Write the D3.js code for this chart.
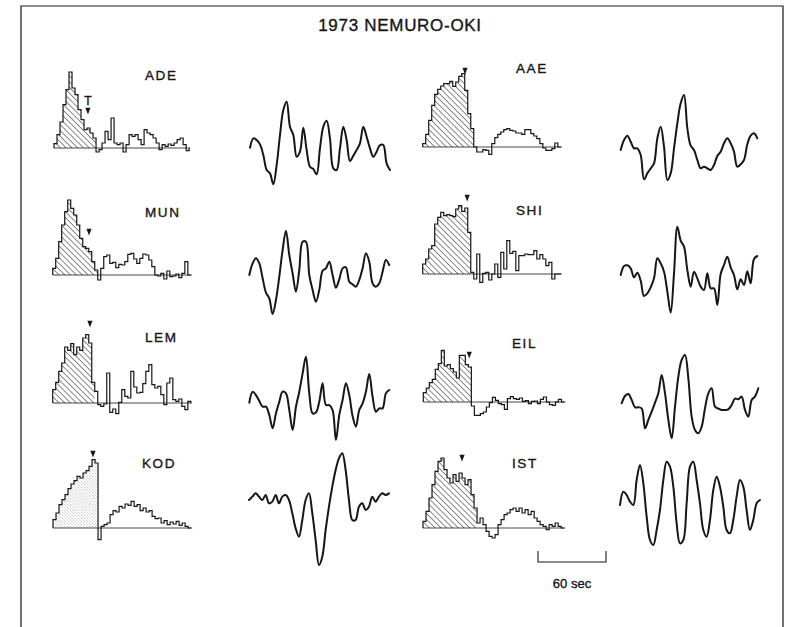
<!DOCTYPE html>
<html>
<head>
<meta charset="utf-8">
<script src="https://cdn.jsdelivr.net/npm/d3@7"></script>
<style>
  html, body { margin: 0; padding: 0; background: #fff; }
  svg { display: block; }
  text { font-family: "Liberation Sans", Arial, sans-serif; fill: #151515; stroke: #151515; stroke-width: 0.35; }
</style>
</head>
<body>
<svg id="chart" width="805" height="627"></svg>
<script>
// station order: left column then right column
const stations = ['ADE', 'MUN', 'LEM', 'KOD', 'AAE', 'SHI', 'EIL', 'IST'];

// source time functions (relative amplitude), sampled every stfDt seconds
const stfDt = 2.65;
const stfADE = [13, 40, 78, 130, 175, 228, 180, 160, 115, 85, 55, 60, 45, 30, -12, -5, 15, 50, 25, 90, 15, 10, 15, -12, 10, 40, 35, 40, 25, 10, 55, 45, 40, 30, 15, -5, 10, 5, 12, 8, 15, 25, 30, 10, -8];
const stfMUN = [20, 50, 100, 150, 190, 225, 200, 180, 150, 110, 85, 80, 70, 40, 15, -15, 20, 55, 60, 35, 38, 22, 32, 30, 40, 62, 65, 48, 35, 50, 63, 60, 45, 25, 0, -3, 5, -12, 12, -5, -3, 3, -8, 5, 40, 0];
const stfLEM = [40, 62, 95, 120, 168, 158, 178, 145, 168, 158, 195, 205, 180, 62, 35, -5, -10, -3, 90, -28, -18, -32, 2, 40, 20, 15, 95, 48, 30, 32, 58, 95, 115, 55, 45, 50, 25, -5, 60, 75, 10, 5, 12, -10, -20, 5];
const stfKOD = [25, 45, 70, 85, 100, 118, 132, 142, 155, 150, 165, 172, 185, 205, 195, -35, 5, 10, 15, 40, 52, 48, 65, 60, 72, 68, 80, 65, 70, 52, 60, 48, 52, 35, 28, 30, 15, 22, 10, 18, 12, 20, 8, 15, 5, 0];
const stfAAE = [10, 38, 80, 125, 158, 173, 183, 190, 190, 197, 182, 195, 212, 220, 170, 100, 55, 0, -15, -15, -8, -10, -22, 10, 28, 38, 45, 52, 55, 50, 48, 42, 42, 38, 52, 52, 40, 33, 25, 10, -3, -10, -10, -5, 12, 0];
const stfSHI = [30, 45, 75, 85, 150, 170, 185, 175, 178, 175, 172, 195, 205, 188, 198, 125, 5, -15, 60, -25, 2, 5, -18, 0, 30, -10, 65, 15, 100, 62, 68, 10, 55, 55, 60, 58, 58, 70, 45, 58, 45, 25, 35, -15, 0, 0];
const stfEIL = [28, 42, 58, 68, 98, 115, 155, 108, 112, 100, 90, 72, 140, 140, 112, 105, -12, -40, -40, -35, -30, -15, -2, 14, 5, -5, -8, -22, 10, 16, 10, 8, 12, 2, 4, -5, 2, 3, -5, 8, 15, 0, -8, -10, 0, 8, 0];
const stfIST = [20, 50, 90, 130, 170, 200, 210, 175, 150, 135, 160, 140, 165, 150, 130, 145, 100, 60, 15, 30, 10, -10, -25, -30, -20, 10, 25, 40, 45, 55, 60, 50, 60, 45, 55, 40, 50, 30, 20, 10, 5, -5, 10, 5, 15, 5, 0];
const stfSeries = [stfADE, stfMUN, stfLEM, stfKOD, stfAAE, stfSHI, stfEIL, stfIST];

// number of samples inside the hatched pulse, and the T marker (sample index, height)
const hatchEnd = [14, 15, 14, 15, 17, 16, 16, 18];
const markerT = [11.3, 12.1, 12.4, 13.3, 14.1, 14.8, 15.3, 13.0];
const markerH = [114, 132, 240, 225, 231, 231, 144, 213];

// observed waveforms (relative amplitude), sampled every waveDt seconds
const waveDt = 2.94;
const waveADE = [-3, 25, 20, 7, -25, -70, -80, -113, -55, 35, 110, 135, 60, 35, -30, -15, 57, -10, -60, -67, -83, -5, 60, 78, 25, -65, -70, -5, 60, 20, -43, -27, -10, 10, 60, 30, -5, -30, -15, 5, 5, -50, -70];
const waveMUN = [0, 35, 50, 35, -10, -53, -70, -117, -75, -5, 75, 133, 60, 5, -50, 15, 100, 100, 0, -45, -80, -45, 13, 20, 40, 0, -38, -13, 20, 23, -20, -28, -35, -15, 20, 65, 40, -25, -35, -25, 10, 45, 30];
const waveLEM = [0, 33, 23, 5, -12, -12, -37, -77, -32, 3, 33, 28, -22, -82, -12, 33, 88, 138, 28, -32, -29, 3, 58, -7, -7, -22, -112, -37, 8, 58, 23, -40, -72, -22, -2, 33, 86, 18, -27, -17, -17, 28, 38];
const waveKOD = [0, 10, 20, 10, 0, 15, -10, -5, 15, -10, 10, 15, 0, -40, -85, -110, -60, 0, 20, -40, -120, -195, -170, -90, -20, 40, 90, 125, 140, 90, 0, -60, -60, -20, -10, -30, -20, 10, -5, 10, 20, 15, 20];
const waveAAE = [0, 30, 43, 25, 5, 5, -15, -88, -70, -55, -40, 35, 70, 10, -90, -70, 5, 80, 140, 165, 65, 13, 0, -30, -55, -50, -55, -60, -45, -18, -5, 20, 35, 20, -5, -50, -43, -30, 17, 43, 50, 35];
const waveSHI = [0, 27, 29, 20, -7, 7, -17, -63, -55, -37, -10, 50, 35, 10, -50, -113, 5, 145, 103, 85, 15, -35, 10, -10, -35, -45, 5, -40, -40, -90, 3, 30, 55, 23, 0, -43, -13, -30, 11, -25, 48, 57];
const waveEIL = [0, 22, 28, 10, -12, -12, -15, -75, -50, -25, 2, 30, 85, 30, -50, -105, -10, 80, 130, 145, 75, -40, -80, -90, -70, -15, 30, 45, -10, -16, -20, -20, -18, -5, 14, 12, 20, -20, -40, 10, 20, 45];
const waveIST = [-15, 25, 15, -5, -15, 60, 105, 50, -50, -120, -135, -90, -30, 60, 115, 100, 40, -70, -130, -120, -10, 100, 115, 60, -10, -90, -110, -60, 30, 70, 40, -20, -90, -100, -60, 10, 60, 40, -30, -90, -60, -10, 0];
const waveSeries = [waveADE, waveMUN, waveLEM, waveKOD, waveAAE, waveSHI, waveEIL, waveIST];

// layout (page positions, not data)
const stfOrigin = [[54, 148], [52.7, 275], [52.7, 403], [53, 528], [422.7, 147], [422.7, 274], [423.3, 402], [423, 528]];
const waveOrigin = [[250, 146.7], [249.3, 275], [249.3, 402.7], [249, 500], [620.7, 150], [620.7, 275], [621.7, 403.3], [620, 500]];
const labelPos = [[145, 80], [145, 217], [145, 342], [142, 468], [516, 73], [516, 215], [512, 348], [512, 468]];

const svg = d3.select('#chart');
const ink = '#161616';

// time and amplitude scales shared by every panel
const tScale = d3.scaleLinear().domain([0, 60]).range([0, 68]);
const aScale = d3.scaleLinear().domain([0, 300]).range([0, -100]);

const defs = svg.append('defs');
defs.append('pattern')
  .attr('id', 'hatch')
  .attr('width', 4.1).attr('height', 4.1)
  .attr('patternUnits', 'userSpaceOnUse')
  .attr('patternTransform', 'rotate(-45)')
  .append('line')
  .attr('x1', 0).attr('y1', 0).attr('x2', 0).attr('y2', 4.1)
  .attr('stroke', ink).attr('stroke-width', 1);
defs.append('pattern')
  .attr('id', 'stipple')
  .attr('width', 2.2).attr('height', 2.2)
  .attr('patternUnits', 'userSpaceOnUse')
  .attr('patternTransform', 'rotate(-45)')
  .append('line')
  .attr('x1', 0).attr('y1', 0).attr('x2', 0).attr('y2', 2.2)
  .attr('stroke', '#555').attr('stroke-width', 0.6)
  .attr('stroke-dasharray', '1,0.8');

// frame
svg.append('path')
  .attr('d', 'M21,627V6H783V627')
  .attr('fill', 'none').attr('stroke', ink).attr('stroke-width', 1.2);

svg.append('text')
  .attr('x', 400).attr('y', 31)
  .attr('text-anchor', 'middle')
  .attr('font-size', 17)
  .attr('letter-spacing', 0.7)
  .text('1973 NEMURO-OKI');

const stepLine = d3.line()
  .curve(d3.curveStepAfter)
  .x(d => tScale(d.t))
  .y(d => aScale(d.v));

const stepArea = d3.area()
  .curve(d3.curveStepAfter)
  .x(d => tScale(d.t))
  .y0(aScale(0))
  .y1(d => aScale(d.v));

const waveLine = d3.line()
  .curve(d3.curveCatmullRom.alpha(0.5))
  .x((d, i) => tScale(i * waveDt))
  .y(d => aScale(d));

stations.forEach((name, k) => {
  const vals = stfSeries[k];
  const pts = [{ t: 0, v: 0 }].concat(vals.map((v, i) => ({ t: i * stfDt, v })));
  pts.push({ t: vals.length * stfDt, v: vals[vals.length - 1] });
  pts.push({ t: vals.length * stfDt, v: 0 });

  const hatchPts = vals.slice(0, hatchEnd[k]).map((v, i) => ({ t: i * stfDt, v }));
  hatchPts.push({ t: hatchEnd[k] * stfDt, v: vals[hatchEnd[k] - 1] });

  const g = svg.append('g')
    .attr('transform', `translate(${stfOrigin[k][0]},${stfOrigin[k][1]})`);

  g.append('path')
    .attr('d', stepArea(hatchPts))
    .attr('fill', name === 'KOD' ? 'url(#stipple)' : 'url(#hatch)');

  g.append('line')
    .attr('x1', 0).attr('x2', tScale(vals.length * stfDt) + 1)
    .attr('y1', aScale(0)).attr('y2', aScale(0))
    .attr('stroke', ink).attr('stroke-width', 0.8);

  g.append('path')
    .attr('d', stepLine(pts))
    .attr('fill', 'none')
    .attr('stroke', ink)
    .attr('stroke-width', 1.2)
    .attr('stroke-linejoin', 'miter');

  const mx = tScale(markerT[k] * stfDt);
  const my = aScale(markerH[k]);
  g.append('path')
    .attr('d', d3.symbol(d3.symbolTriangle, 18)())
    .attr('transform', `translate(${mx},${my}) rotate(180) scale(0.8,1.2)`)
    .attr('fill', ink);

  if (name === 'ADE') {
    g.append('text')
      .attr('x', mx).attr('y', my - 5)
      .attr('text-anchor', 'middle')
      .attr('font-size', 12)
      .text('T');
  }

  svg.append('text')
    .attr('x', labelPos[k][0]).attr('y', labelPos[k][1])
    .attr('font-size', 13.5)
    .attr('letter-spacing', 1.6)
    .text(name);

  svg.append('path')
    .attr('transform', `translate(${waveOrigin[k][0]},${waveOrigin[k][1]})`)
    .attr('d', waveLine(waveSeries[k]))
    .attr('fill', 'none')
    .attr('stroke', ink)
    .attr('stroke-width', 2)
    .attr('stroke-linejoin', 'round')
    .attr('stroke-linecap', 'round');
});

// 60 sec scale bar
const bar = svg.append('g').attr('transform', 'translate(538,562)');
bar.append('path')
  .attr('d', `M0,-11V0H${tScale(60)}V-11`)
  .attr('fill', 'none').attr('stroke', ink).attr('stroke-width', 1.1);
bar.append('text')
  .attr('x', tScale(30)).attr('y', 26)
  .attr('text-anchor', 'middle')
  .attr('font-size', 13)
  .text('60 sec');
</script>
</body>
</html>
